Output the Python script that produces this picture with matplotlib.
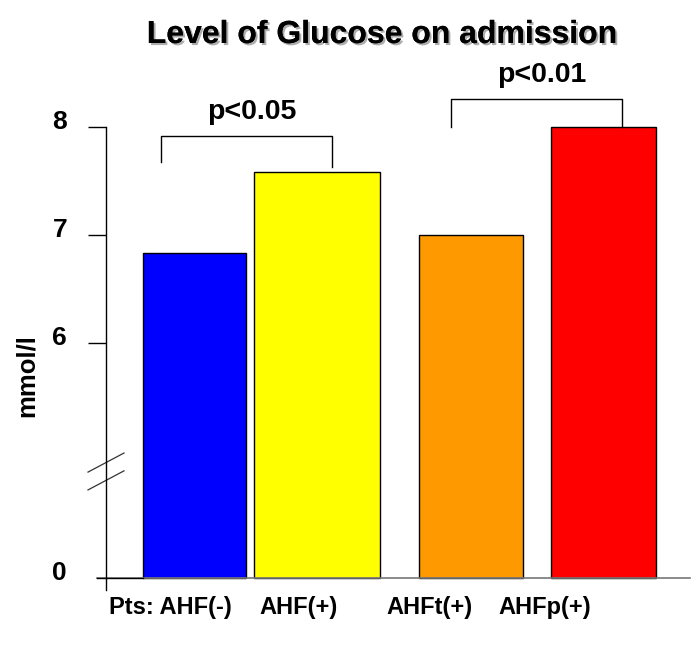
import numpy as np
import matplotlib
matplotlib.use('Agg')
import matplotlib.pyplot as plt
import matplotlib.patheffects as pe
from matplotlib import transforms

groups = ['Pts: AHF(-)', 'AHF(+)', 'AHFt(+)', 'AHFp(+)']
glucose = [6.83, 7.58, 7.0, 8.0]
colors = ['#0000FF', '#FFFF00', '#FF9900', '#FF0000']
yticks = [0, 6, 7, 8]
# significance brackets: (top, left leg end, right leg end, label)
brackets = [(7.92, 7.68, 7.63, 'p<0.05'),
            (8.26, 8.0, 8.0, 'p<0.01')]

# layout (x axis in pixel-like units)
bar_x = [194.5, 317, 471, 603.5]
bar_w = [103, 126, 104, 105]
label_x = [170, 299, 429, 545]
bracket_x = [(161, 332), (451, 622)]


# broken y axis: 0..5 squeezed, 5..8 linear
def fwd(v):
    v = np.asarray(v, dtype=float)
    return np.where(v < 5, v * 127 / 5, 127 + 108 * (v - 5))


def inv(d):
    d = np.asarray(d, dtype=float)
    return np.where(d < 127, d * 5 / 127, 5 + (d - 127) / 108)


plt.rcParams['font.family'] = ['Liberation Sans', 'DejaVu Sans']
plt.rcParams['font.weight'] = 'bold'

fig = plt.figure(figsize=(6.99, 6.55), dpi=100)
ax = fig.add_axes([97 / 699, 65 / 655, 593 / 699, 495.4 / 655])
ax.set_yscale('function', functions=(fwd, inv))
ax.set_xlim(97, 690)
ax.set_ylim(-0.47, 8.3)

ax.bar(bar_x, glucose, width=bar_w, color=colors, edgecolor='black', linewidth=1)

for sp in ['top', 'right', 'bottom']:
    ax.spines[sp].set_visible(False)
ax.spines['left'].set_position(('data', 106))
ax.spines['left'].set_bounds(-0.47, 8)
ax.spines['left'].set_linewidth(1)

ax.set_yticks(yticks)
ax.set_yticklabels([str(t) for t in yticks], fontsize=19, fontweight='bold')
ax.tick_params(axis='y', direction='out', length=13, width=1, pad=15)
ax.yaxis.get_major_ticks()[0].tick1line.set_visible(False)
ax.yaxis.set_minor_locator(matplotlib.ticker.NullLocator())
shift = transforms.ScaledTranslation(0, 8 / 100, fig.dpi_scale_trans)
for lab in ax.get_yticklabels():
    lab.set_transform(lab.get_transform() + shift)

ax.set_xticks(label_x)
ax.set_xticklabels(groups, fontsize=17, fontweight='bold')
ax.tick_params(axis='x', length=0, pad=4)

# baseline
ax.plot([97, 690], [0, 0], color='#777777', lw=1.2, zorder=1, clip_on=False)
ax.plot([97, 143], [0, 0], color='black', lw=1, zorder=3, clip_on=False)

# axis break marks
tr = transforms.blended_transform_factory(ax.transData, ax.transAxes)
for y0 in [0.238, 0.202]:
    ax.plot([88, 124], [y0, y0 + 0.0385], transform=tr, color='#333333', lw=0.9, clip_on=False)

# significance brackets
for (top, l_end, r_end, txt), (xl, xr) in zip(brackets, bracket_x):
    ax.plot([xl, xl, xr, xr], [l_end, top, top, r_end], color='black', lw=1, clip_on=False)
    ax.text((xl + xr) / 2 + 5, top + 0.1, txt, ha='center', va='bottom',
            fontsize=20.5, fontweight='bold', clip_on=False)

fig.text(27 / 699, 1 - 376 / 655, 'mmol/l', rotation=90, ha='center', va='center',
         fontsize=18.5, fontweight='bold')

fig.text(382 / 699, 1 - 35 / 655, 'Level of Glucose on admission', ha='center', va='center',
         fontsize=23, fontweight='bold',
         path_effects=[pe.withSimplePatchShadow(offset=(1.5, -1.5), shadow_rgbFace='#777777', alpha=0.6),
                       pe.Normal()])

fig.savefig('out.png', dpi=100)
